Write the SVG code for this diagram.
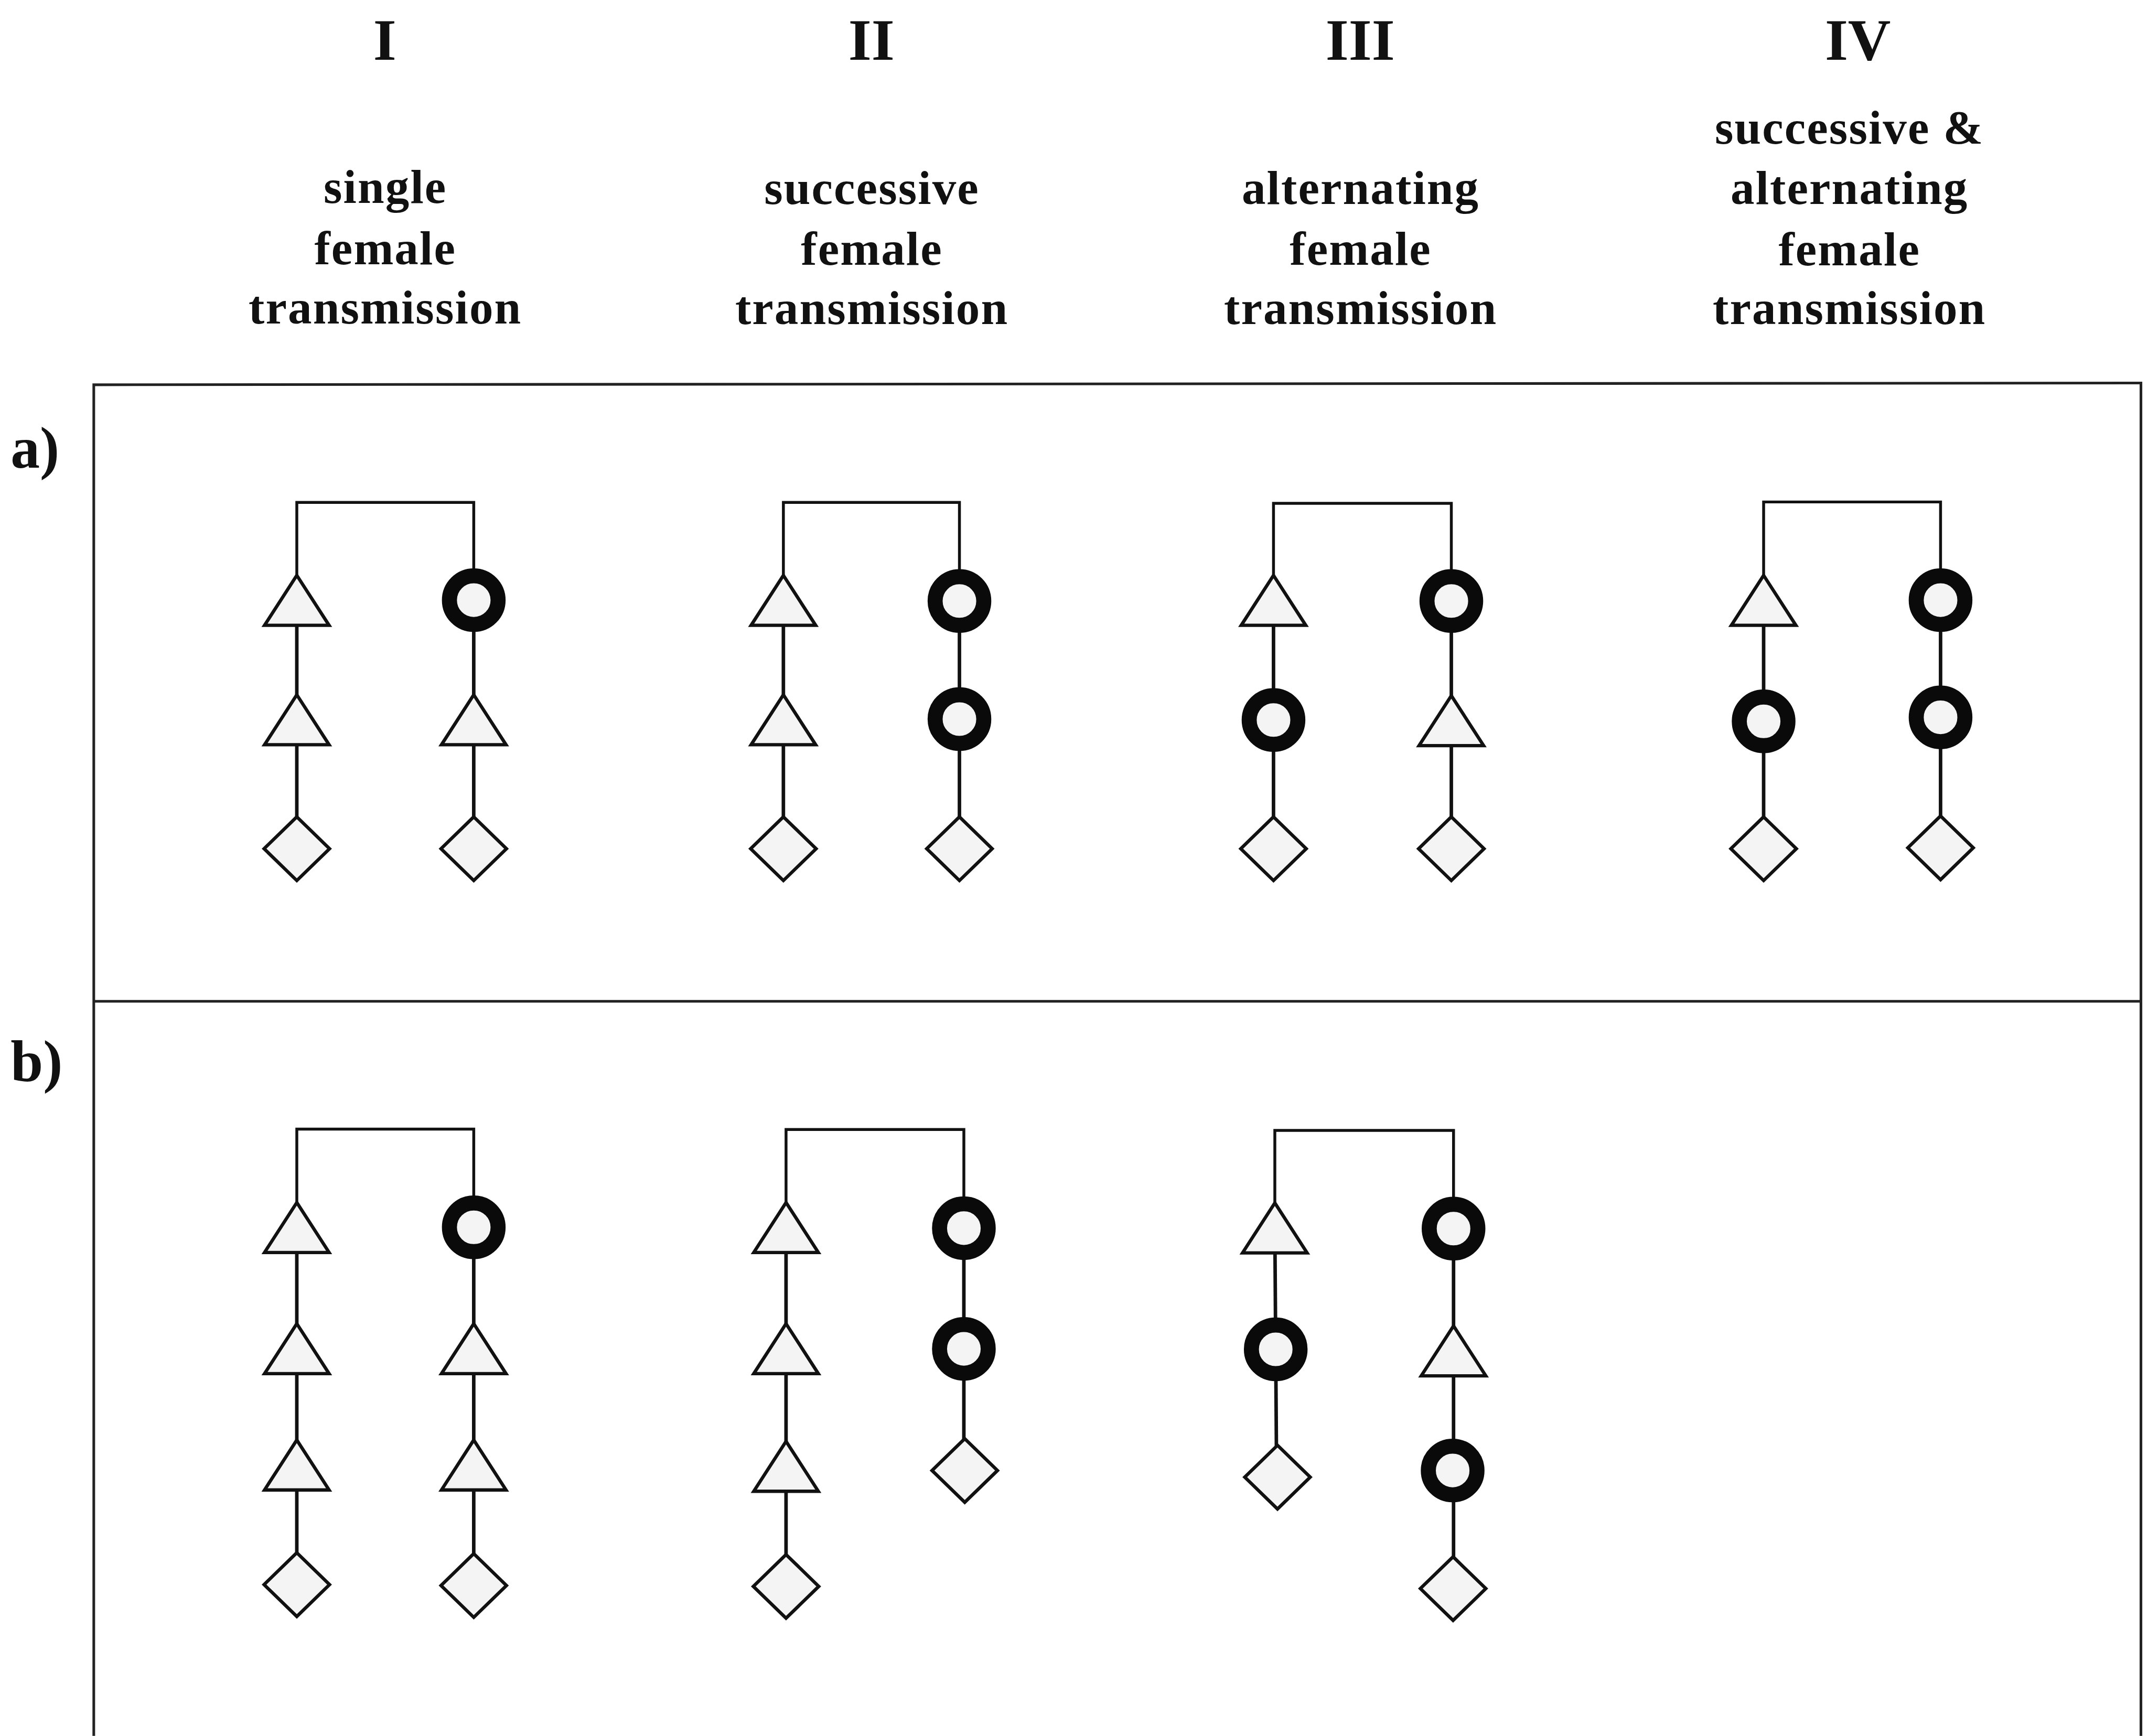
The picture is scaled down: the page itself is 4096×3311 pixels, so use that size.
<svg xmlns="http://www.w3.org/2000/svg" xmlns:xlink="http://www.w3.org/1999/xlink" width="4096" height="3311" viewBox="0 0 4096 3311">
  <style>
    .hdr { font-family: "Liberation Serif", "Times New Roman", serif; font-weight: bold; fill: #111; text-anchor: middle; }
    .num { font-size: 134px; }
    .lbl { font-size: 108px; letter-spacing: 2.5px; }
    .part { font-family: "Liberation Serif", "Times New Roman", serif; font-weight: bold; font-size: 132px; fill: #111; }
    .frame { fill: none; stroke: #222; stroke-width: 6; }
    .bar { fill: none; stroke: #111; stroke-width: 6.5; }
    .link { stroke: #111; stroke-width: 8; }
    .shape { fill: #f4f4f4; stroke: #111; stroke-width: 7.5; stroke-linejoin: miter; }
    .ring { fill: #f4f4f4; stroke: #0a0a0a; stroke-width: 34; }
  </style>
  <defs>
    <path id="tri" class="shape" d="M0,-56 L73,57 L-73,57 Z"/>
    <path id="dia" class="shape" d="M0,-72 L74,0 L0,72 L-74,0 Z"/>
    <circle id="fem" class="ring" r="55"/>
  </defs>
  <rect width="4096" height="3311" fill="#ffffff"/>

  <g transform="scale(0.8435)">
    <!-- column headings -->
    <g id="headings">
      <text class="hdr num" x="870" y="135">I</text>
      <text class="hdr num" x="1970" y="135">II</text>
      <text class="hdr num" x="3075" y="135">III</text>
      <text class="hdr num" x="4200" y="135">IV</text>

      <text class="hdr lbl" x="871" y="459">single</text>
      <text class="hdr lbl" x="871" y="597">female</text>
      <text class="hdr lbl" x="871" y="732">transmission</text>

      <text class="hdr lbl" x="1971" y="461">successive</text>
      <text class="hdr lbl" x="1971" y="599">female</text>
      <text class="hdr lbl" x="1971" y="733">transmission</text>

      <text class="hdr lbl" x="3076" y="461">alternating</text>
      <text class="hdr lbl" x="3076" y="599">female</text>
      <text class="hdr lbl" x="3076" y="733">transmission</text>

      <text class="hdr lbl" x="4181" y="325">successive &amp;</text>
      <text class="hdr lbl" x="4181" y="461">alternating</text>
      <text class="hdr lbl" x="4181" y="600">female</text>
      <text class="hdr lbl" x="4181" y="733">transmission</text>
    </g>

    <!-- panel labels and frame -->
    <g id="panels">
      <text class="part" x="24" y="1057">a)</text>
      <text class="part" x="24" y="2444">b)</text>
      <path class="frame" d="M212,3925 L212,870 L4840,866 L4840,3925"/>
      <line class="frame" x1="212" y1="2264" x2="4840" y2="2264"/>
    </g>

    <!-- descent lines and marriage bars -->
    <g id="connectors">
      <!-- a) I -->
      <path class="bar" d="M671,1357 V1136 H1071 V1357"/>
      <line class="link" x1="671" y1="1357" x2="671" y2="1919"/>
      <line class="link" x1="1071" y1="1357" x2="1071" y2="1919"/>
      <!-- a) II -->
      <path class="bar" d="M1771,1357 V1136 H2169 V1357"/>
      <line class="link" x1="1771" y1="1357" x2="1771" y2="1919"/>
      <line class="link" x1="2169" y1="1357" x2="2169" y2="1919"/>
      <!-- a) III -->
      <path class="bar" d="M2879,1357 V1138 H3281 V1357"/>
      <line class="link" x1="2879" y1="1357" x2="2879" y2="1919"/>
      <line class="link" x1="3281" y1="1357" x2="3281" y2="1919"/>
      <!-- a) IV -->
      <path class="bar" d="M3987,1357 V1135 H4387 V1357"/>
      <line class="link" x1="3987" y1="1357" x2="3987" y2="1919"/>
      <line class="link" x1="4387" y1="1357" x2="4387" y2="1919"/>
      <!-- b) I -->
      <path class="bar" d="M671,2775 V2553 H1071 V2775"/>
      <line class="link" x1="671" y1="2775" x2="671" y2="3585"/>
      <line class="link" x1="1071" y1="2775" x2="1071" y2="3585"/>
      <!-- b) II -->
      <path class="bar" d="M1777,2775 V2554 H2179 V2775"/>
      <line class="link" x1="1777" y1="2775" x2="1777" y2="3585"/>
      <line class="link" x1="2179" y1="2775" x2="2179" y2="3325"/>
      <!-- b) III -->
      <path class="bar" d="M2882,2775 V2556 H3286 V2775"/>
      <line class="link" x1="2882" y1="2775" x2="2886" y2="3336"/>
      <line class="link" x1="3286" y1="2775" x2="3286" y2="3590"/>
    </g>

    <!-- a) I single female transmission -->
    <g id="a-I">
      <use xlink:href="#tri" x="671" y="1357"/>
      <use xlink:href="#tri" x="671" y="1627"/>
      <use xlink:href="#dia" x="671" y="1919"/>
      <use xlink:href="#fem" x="1071" y="1357"/>
      <use xlink:href="#tri" x="1071" y="1627"/>
      <use xlink:href="#dia" x="1071" y="1919"/>
    </g>
    <!-- a) II successive female transmission -->
    <g id="a-II">
      <use xlink:href="#tri" x="1771" y="1357"/>
      <use xlink:href="#tri" x="1771" y="1627"/>
      <use xlink:href="#dia" x="1771" y="1919"/>
      <use xlink:href="#fem" x="2169" y="1359"/>
      <use xlink:href="#fem" x="2169" y="1626"/>
      <use xlink:href="#dia" x="2169" y="1919"/>
    </g>
    <!-- a) III alternating female transmission -->
    <g id="a-III">
      <use xlink:href="#tri" x="2879" y="1357"/>
      <use xlink:href="#fem" x="2879" y="1628"/>
      <use xlink:href="#dia" x="2879" y="1919"/>
      <use xlink:href="#fem" x="3281" y="1359"/>
      <use xlink:href="#tri" x="3281" y="1629"/>
      <use xlink:href="#dia" x="3281" y="1919"/>
    </g>
    <!-- a) IV successive and alternating female transmission -->
    <g id="a-IV">
      <use xlink:href="#tri" x="3987" y="1357"/>
      <use xlink:href="#fem" x="3987" y="1631"/>
      <use xlink:href="#dia" x="3987" y="1919"/>
      <use xlink:href="#fem" x="4387" y="1357"/>
      <use xlink:href="#fem" x="4387" y="1622"/>
      <use xlink:href="#dia" x="4387" y="1917"/>
    </g>

    <!-- b) I -->
    <g id="b-I">
      <use xlink:href="#tri" x="671" y="2775"/>
      <use xlink:href="#tri" x="671" y="3049"/>
      <use xlink:href="#tri" x="671" y="3312"/>
      <use xlink:href="#dia" x="671" y="3583"/>
      <use xlink:href="#fem" x="1071" y="2775"/>
      <use xlink:href="#tri" x="1071" y="3049"/>
      <use xlink:href="#tri" x="1071" y="3312"/>
      <use xlink:href="#dia" x="1071" y="3585"/>
    </g>
    <!-- b) II -->
    <g id="b-II">
      <use xlink:href="#tri" x="1777" y="2775"/>
      <use xlink:href="#tri" x="1777" y="3049"/>
      <use xlink:href="#tri" x="1777" y="3315"/>
      <use xlink:href="#dia" x="1777" y="3587"/>
      <use xlink:href="#fem" x="2179" y="2777"/>
      <use xlink:href="#fem" x="2179" y="3050"/>
      <use xlink:href="#dia" x="2181" y="3325"/>
    </g>
    <!-- b) III -->
    <g id="b-III">
      <use xlink:href="#tri" x="2882" y="2776"/>
      <use xlink:href="#fem" x="2884" y="3051"/>
      <use xlink:href="#dia" x="2888" y="3340"/>
      <use xlink:href="#fem" x="3286" y="2778"/>
      <use xlink:href="#tri" x="3286" y="3054"/>
      <use xlink:href="#fem" x="3284" y="3325"/>
      <use xlink:href="#dia" x="3285" y="3592"/>
    </g>
  </g>
</svg>
